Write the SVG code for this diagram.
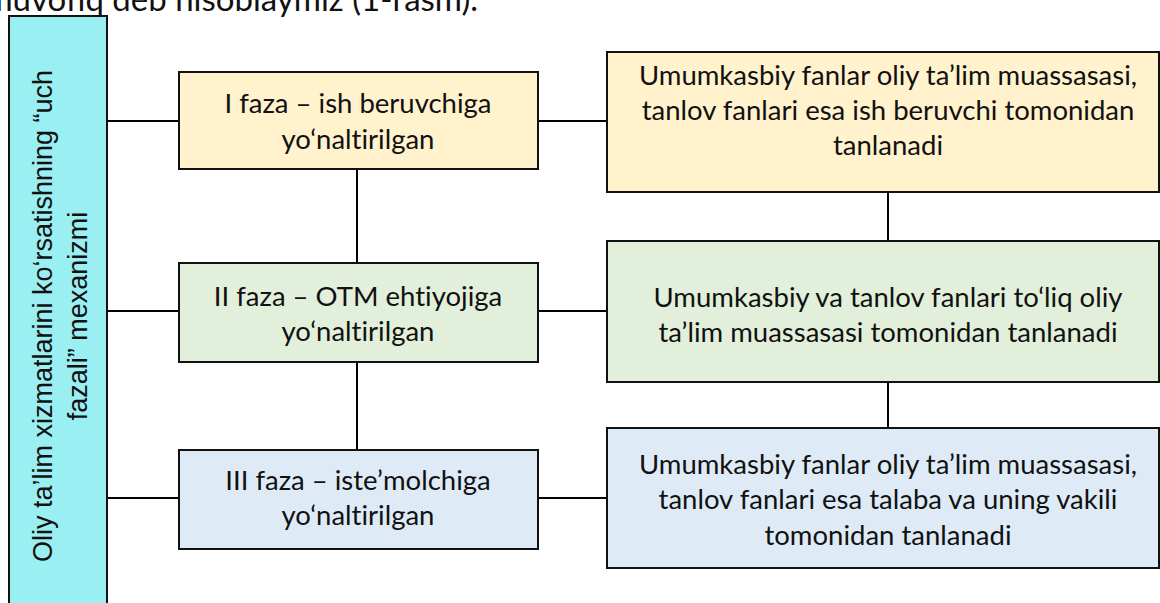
<svg xmlns="http://www.w3.org/2000/svg" width="1160" height="603" viewBox="0 0 1160 603">
<style>
.box{stroke:#111;stroke-width:2}
.y{fill:#FFF2CC}
.g{fill:#E2EFDA}
.b{fill:#DEEBF7}
.c{fill:#9AEFF2}
.t{font-family:Lato,'Noto Sans',sans-serif;font-size:27.5px;fill:#111;text-anchor:middle;font-variant-ligatures:none}
.lt{font-family:'Liberation Sans',Arial,sans-serif;font-size:27px;fill:#111;text-anchor:middle}
.hd{font-family:Lato,'Noto Sans',sans-serif;font-size:33px;fill:#111;text-anchor:end;font-variant-ligatures:none}
#connectors line{stroke:#000;stroke-width:2}
</style>
<rect width="1160" height="603" fill="#fff"/>
<text class="hd" x="478" y="11">muvofiq deb hisoblaymiz (1-rasm).</text>
<g id="connectors">
<line x1="107" y1="121" x2="179" y2="121"/>
<line x1="107" y1="311" x2="179" y2="311"/>
<line x1="107" y1="498" x2="179" y2="498"/>
<line x1="538" y1="121" x2="607" y2="121"/>
<line x1="538" y1="311" x2="607" y2="311"/>
<line x1="538" y1="498" x2="607" y2="498"/>
<line x1="357" y1="169" x2="357" y2="263"/>
<line x1="357" y1="362" x2="357" y2="450"/>
<line x1="888" y1="192" x2="888" y2="241"/>
<line x1="888" y1="382" x2="888" y2="428"/>
</g>
<g id="main">
<rect class="box c" x="9" y="16" width="98" height="600"/>
<g transform="translate(52,316) rotate(-90)">
<text class="lt" x="0" y="0">Oliy ta’lim xizmatlarini ko‘rsatishning “uch</text>
<text class="lt" x="0" y="35">fazali” mexanizmi</text>
</g>
</g>
<g id="phase1">
<rect class="box y" x="179" y="72" width="359" height="97"/>
<text class="t" x="358" y="113">I faza – ish beruvchiga</text>
<text class="t" x="358" y="149">yo‘naltirilgan</text>
</g>
<g id="phase2">
<rect class="box g" x="179" y="263" width="359" height="99"/>
<text class="t" x="358" y="306">II faza – OTM ehtiyojiga</text>
<text class="t" x="358" y="341">yo‘naltirilgan</text>
</g>
<g id="phase3">
<rect class="box b" x="179" y="450" width="359" height="99"/>
<text class="t" x="358" y="490">III faza – iste’molchiga</text>
<text class="t" x="358" y="525">yo‘naltirilgan</text>
</g>
<g id="desc1">
<rect class="box y" x="607" y="52" width="552" height="140"/>
<text class="t" x="888" y="85">Umumkasbiy fanlar oliy ta’lim muassasasi,</text>
<text class="t" x="888" y="120">tanlov fanlari esa ish beruvchi tomonidan</text>
<text class="t" x="888" y="155">tanlanadi</text>
</g>
<g id="desc2">
<rect class="box g" x="607" y="241" width="552" height="141"/>
<text class="t" x="888" y="307">Umumkasbiy va tanlov fanlari to‘liq oliy</text>
<text class="t" x="888" y="342">ta’lim muassasasi tomonidan tanlanadi</text>
</g>
<g id="desc3">
<rect class="box b" x="607" y="428" width="552" height="140"/>
<text class="t" x="888" y="474">Umumkasbiy fanlar oliy ta’lim muassasasi,</text>
<text class="t" x="888" y="509">tanlov fanlari esa talaba va uning vakili</text>
<text class="t" x="888" y="545">tomonidan tanlanadi</text>
</g>
</svg>
